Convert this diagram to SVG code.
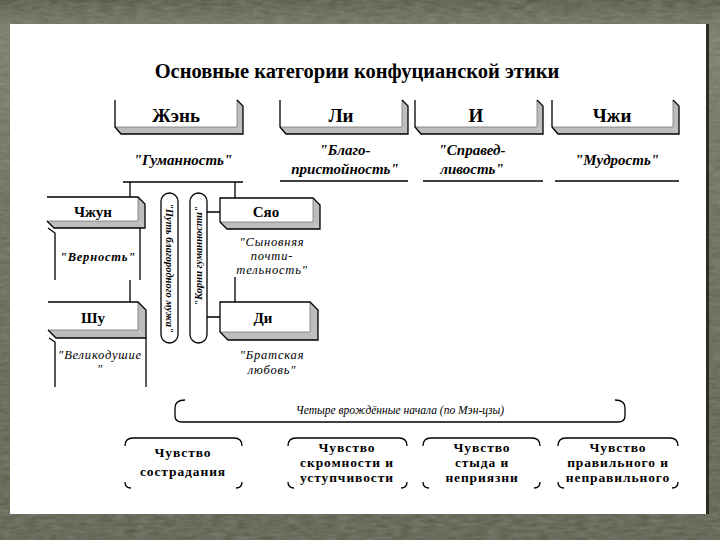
<svg xmlns="http://www.w3.org/2000/svg" width="720" height="540" viewBox="0 0 720 540">
<defs>
<linearGradient id="bg" x1="0" y1="0" x2="0" y2="1">
<stop offset="0" stop-color="#4f5443"/>
<stop offset="0.06" stop-color="#737766"/>
<stop offset="0.5" stop-color="#5f6352"/>
<stop offset="1" stop-color="#555a48"/>
</linearGradient>
<filter id="tex" x="0" y="0" width="100%" height="100%">
<feTurbulence type="fractalNoise" baseFrequency="0.08 0.3" numOctaves="3" seed="4" result="n"/>
<feColorMatrix type="matrix" values="0 0 0 0 0.45  0 0 0 0 0.47  0 0 0 0 0.4  0 0 0 0.4 0"/>
</filter>
<style>
.ln{stroke:#000;stroke-width:1.3;fill:none}
.gl{stroke:#777;stroke-width:0.8;fill:none}
.sh{fill:#bdbdbd;stroke:none}
.hd{font-family:"Liberation Serif","DejaVu Serif",serif;font-weight:bold;fill:#000;text-anchor:middle}
.qt{font-family:"Liberation Serif","DejaVu Serif",serif;font-weight:bold;font-style:italic;font-size:15px;fill:#000;text-anchor:middle}
.it{font-family:"Liberation Serif","DejaVu Serif",serif;font-style:italic;font-size:12.5px;fill:#000;text-anchor:middle;letter-spacing:0.8px}
.nc{font-family:"Liberation Serif","DejaVu Serif",serif;font-style:italic;font-size:11.5px;fill:#000;text-anchor:middle}
.cp{font-family:"Liberation Serif","DejaVu Serif",serif;font-style:italic;font-weight:bold;font-size:10.5px;fill:#000;text-anchor:middle}
.bt{font-family:"Liberation Serif","DejaVu Serif",serif;font-weight:bold;font-size:13.5px;fill:#000;text-anchor:middle;letter-spacing:0.9px}
</style>
</defs>
<rect width="720" height="540" fill="url(#bg)"/>
<rect width="720" height="540" filter="url(#tex)"/>
<rect x="706" y="24" width="3" height="490" fill="#2a2e22"/>
<rect x="10" y="24" width="696" height="490" fill="#ffffff"/>

<text class="hd" x="357" y="78" font-size="20.5">Основные категории конфуцианской этики</text>

<g id="zhen">
<polygon class="sh" points="115,127 237,127 243,134 121,134"/>
<polygon class="sh" points="237,100 243,106 243,134 237,127"/>
<path class="gl" d="M115,127 H237 V100"/>
<path class="ln" d="M115,100 V127 L121,134 H243 V106 L237,100"/>
<text class="hd" x="176" y="122" font-size="19">Жэнь</text>
<text class="qt" x="183" y="165">"Гуманность"</text>
</g>
<g id="li">
<polygon class="sh" points="280,127 402,127 408,134 286,134"/>
<polygon class="sh" points="402,100 408,106 408,134 402,127"/>
<path class="gl" d="M280,127 H402 V100"/>
<path class="ln" d="M280,100 V127 L286,134 H408 V106 L402,100"/>
<text class="hd" x="341" y="122" font-size="19">Ли</text>
<text class="qt" x="345" y="155">"Благо-</text>
<text class="qt" x="345" y="174">пристойность"</text>
</g>
<g id="i">
<polygon class="sh" points="415,127 537,127 543,134 421,134"/>
<polygon class="sh" points="537,100 543,106 543,134 537,127"/>
<path class="gl" d="M415,127 H537 V100"/>
<path class="ln" d="M415,100 V127 L421,134 H543 V106 L537,100"/>
<text class="hd" x="476" y="122" font-size="19">И</text>
<text class="qt" x="472" y="155">"Справед-</text>
<text class="qt" x="472" y="174">ливость"</text>
</g>
<g id="chzhi">
<polygon class="sh" points="552,127 673,127 679,134 558,134"/>
<polygon class="sh" points="673,100 679,106 679,134 673,127"/>
<path class="gl" d="M552,127 H673 V100"/>
<path class="ln" d="M552,100 V127 L558,134 H679 V106 L673,100"/>
<text class="hd" x="612" y="122" font-size="19">Чжи</text>
<text class="qt" x="617" y="165">"Мудрость"</text>
</g>

<g id="chzhun">
<polygon class="sh" points="47,221 138,221 145,228 54,228"/>
<polygon class="sh" points="138,197 145,204 145,228 138,221"/>
<path class="gl" d="M47,221 H138 V197"/>
<path class="ln" d="M47,197 H138 L145,204 V228 H54 L47,221"/>
<path class="ln" d="M48,228 L55,233 V280 M140,228 V280"/>
<text class="hd" x="93" y="217" font-size="15">Чжун</text>
<text class="it" x="98" y="261" font-weight="bold">"Верность"</text>
</g>
<g id="shu">
<polygon class="sh" points="48,330 138,330 146,338 56,338"/>
<polygon class="sh" points="138,302 146,310 146,338 138,330"/>
<path class="gl" d="M48,330 H138 V302"/>
<path class="ln" d="M48,302 H138 L146,310 V338 H56 L48,330"/>
<path class="ln" d="M49,338 L55,342 V387 M146,338 V387"/>
<text class="hd" x="93" y="323" font-size="15">Шу</text>
<text class="it" x="100" y="359">"Великодушие</text>
<text class="it" x="100" y="373">"</text>
</g>
<g id="syao">
<polygon class="sh" points="220,222 313,222 320,229 227,229"/>
<polygon class="sh" points="313,198 320,205 320,229 313,222"/>
<path class="gl" d="M220,222 H313 V198"/>
<path class="ln" d="M220,198 H313 L320,205 V229 H227 L220,222 Z"/>
<text class="hd" x="266" y="217" font-size="15">Сяо</text>
<text class="it" x="272" y="246">"Сыновняя</text>
<text class="it" x="272" y="260">почти-</text>
<text class="it" x="272" y="274">тельность"</text>
</g>
<g id="di">
<polygon class="sh" points="220,332 310,332 318,340 228,340"/>
<polygon class="sh" points="310,302 318,310 318,340 310,332"/>
<path class="gl" d="M220,332 H310 V302"/>
<path class="ln" d="M220,302 H310 L318,310 V340 H228 L220,332 Z"/>
<text class="hd" x="263" y="323" font-size="15">Ди</text>
<text class="it" x="272" y="359">"Братская</text>
<text class="it" x="272" y="374">любовь"</text>
</g>
<g id="put">
<rect class="ln" x="161" y="193" width="17" height="150" rx="8.5"/>
<text class="cp" transform="translate(166,268) rotate(90)">"Путь благородного мужа"</text>
</g>
<g id="korni">
<rect class="ln" x="190" y="193" width="17" height="150" rx="8.5"/>
<text class="cp" transform="translate(202,256) rotate(-90)">"Корни гуманности"</text>
</g>

<g id="connectors">
<path class="ln" d="M123,182 H243 M130,182 V197 M235,182 V198"/>
<path class="ln" d="M280,181 H408 M423,181 H543 M555,181 H679"/>
<path class="ln" d="M130,280 V302 M235,277 V302"/>
<path class="ln" d="M207,212 H220 M207,317 H220"/>
</g>

<g id="nachala">
<path class="ln" d="M185,400 Q175,400 175,408 V416 Q175,422 182,422 H618 Q625,422 625,416 V408 Q625,400 615,400"/>
<text class="nc" x="400" y="414">Четыре врождённые начала (по Мэн-цзы)</text>
</g>

<g id="b1">
<path class="ln" d="M125,446 Q125,438 133,438 H234 Q242,438 242,446"/>
<path class="ln" d="M125,482 Q125,488 131,488 M242,482 Q242,488 236,488"/>
<text class="bt" x="183" y="457">Чувство</text>
<text class="bt" x="183" y="476">сострадания</text>
</g>
<g id="b2">
<path class="ln" d="M288,446 Q288,438 296,438 H399 Q407,438 407,446"/>
<path class="ln" d="M288,482 Q288,488 294,488 M407,482 Q407,488 401,488"/>
<text class="bt" x="347" y="452">Чувство</text>
<text class="bt" x="347" y="467">скромности и</text>
<text class="bt" x="347" y="482">уступчивости</text>
</g>
<g id="b3">
<path class="ln" d="M423,446 Q423,438 431,438 H532 Q540,438 540,446"/>
<path class="ln" d="M423,482 Q423,488 429,488 M540,482 Q540,488 534,488"/>
<text class="bt" x="482" y="452">Чувство</text>
<text class="bt" x="482" y="467">стыда и</text>
<text class="bt" x="482" y="482">неприязни</text>
</g>
<g id="b4">
<path class="ln" d="M558,446 Q558,438 566,438 H670 Q678,438 678,446"/>
<path class="ln" d="M558,482 Q558,488 564,488 M678,482 Q678,488 672,488"/>
<text class="bt" x="618" y="452">Чувство</text>
<text class="bt" x="618" y="467">правильного и</text>
<text class="bt" x="618" y="482">неправильного</text>
</g>
</svg>
